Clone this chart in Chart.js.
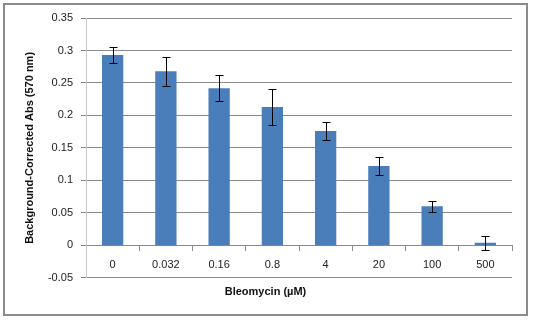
<!DOCTYPE html>
<html>
<head>
<meta charset="utf-8">
<script src="https://cdn.jsdelivr.net/npm/chart.js@4"></script>
<style>
  body { margin: 0; background: #fff; }
  #wrap { width: 536px; height: 321px; }
</style>
</head>
<body>
<div id="wrap"><canvas id="absChart" width="536" height="321"></canvas></div>
<script>
// Bleomycin doses (uM) and background-corrected absorbance at 570 nm
const doses = ['0', '0.032', '0.16', '0.8', '4', '20', '100', '500'];
const absValues = [0.293, 0.268, 0.242, 0.213, 0.176, 0.122, 0.060, 0.004];
const absErrors = [0.012, 0.022, 0.020, 0.027, 0.014, 0.014, 0.008, 0.011];

// outer frame round the whole chart
const frame = {
    id: 'frame',
    beforeDraw(chart) {
        const ctx = chart.ctx;
        ctx.save();
        ctx.fillStyle = '#fff';
        ctx.fillRect(0, 0, chart.width, chart.height);
        ctx.strokeStyle = '#8c8c8c';
        ctx.lineWidth = 2;
        ctx.strokeRect(4, 4, 523, 311);
        ctx.restore();
    }
};

// simple error bars drawn over the bars
const errorBars = {
    id: 'errorBars',
    afterDatasetsDraw(chart) {
        const ctx = chart.ctx;
        const y = chart.scales.y;
        const meta = chart.getDatasetMeta(0);
        ctx.save();
        ctx.strokeStyle = '#000';
        ctx.lineWidth = 1;
        meta.data.forEach((bar, i) => {
            const x = Math.round(bar.x) + 0.5;
            const top = Math.round(y.getPixelForValue(absValues[i] + absErrors[i])) + 0.5;
            const bot = Math.round(y.getPixelForValue(absValues[i] - absErrors[i])) + 0.5;
            ctx.beginPath();
            ctx.moveTo(x, top);
            ctx.lineTo(x, bot);
            ctx.moveTo(x - 4, top);
            ctx.lineTo(x + 4, top);
            ctx.moveTo(x - 4, bot);
            ctx.lineTo(x + 4, bot);
            ctx.stroke();
        });
        ctx.restore();
    }
};

const config = {
    type: 'bar',
    data: {
        labels: doses,
        datasets: [{
            data: absValues,
            backgroundColor: '#4a7ebb',
            borderWidth: 0,
            barPercentage: 0.4,
            categoryPercentage: 1.0,
        }]
    },
    options: {
        responsive: false,
        animation: false,
        layout: {
            padding: { left: 19, right: 24, top: 18, bottom: 14 }
        },
        scales: {
            x: {
                position: { y: 0 },
                grid: {
                    drawOnChartArea: false,
                    drawTicks: true,
                    tickLength: 5,
                    color: '#8a8a8a',
                },
                border: { display: true, color: '#8a8a8a' },
                ticks: {
                    padding: 8,
                    color: '#222',
                    font: { family: 'Liberation Sans', size: 11 },
                },
            },
            y: {
                min: -0.05,
                max: 0.35,
                ticks: {
                    stepSize: 0.05,
                    padding: 8,
                    color: '#222',
                    font: { family: 'Liberation Sans', size: 11 },
                    callback: (v) => String(+v.toFixed(2)),
                },
                grid: {
                    color: '#8a8a8a',
                    tickLength: 5,
                },
                border: { display: true, color: '#c8c8c8' },
                title: {
                    display: true,
                    text: 'Background-Corrected Abs (570 nm)',
                    color: '#111',
                    font: { family: 'Liberation Sans', size: 11, weight: 'bold' },
                },
                afterFit(scale) { scale.width = 67; },
            }
        },
        plugins: {
            legend: { display: false },
            tooltip: { enabled: false },
            title: {
                display: true,
                position: 'bottom',
                text: 'Bleomycin (\u00b5M)',
                color: '#111',
                font: { family: 'Liberation Sans', size: 11, weight: 'bold' },
                padding: { top: 8, bottom: 8 },
            }
        }
    },
    plugins: [frame, errorBars]
};

new Chart(document.getElementById('absChart'), config);
</script>
</body>
</html>
